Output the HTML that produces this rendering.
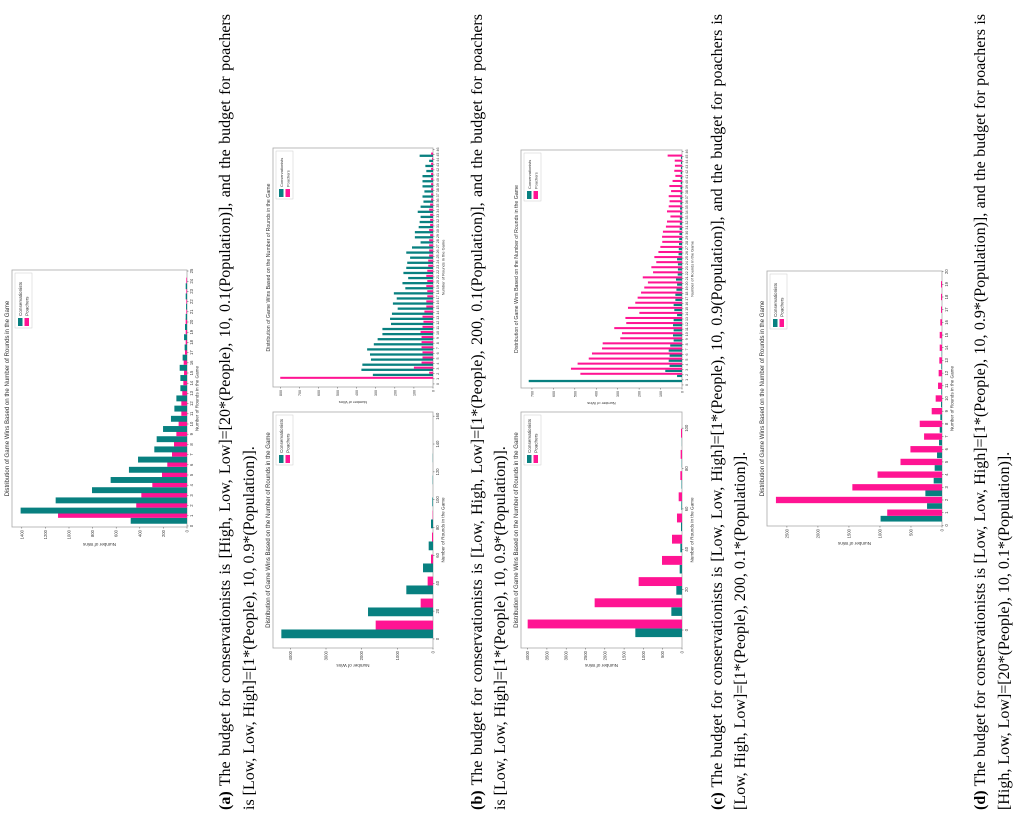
<!DOCTYPE html>
<html><head><meta charset="utf-8">
<style>
html,body{margin:0;padding:0;background:#fff;}
body{width:1021px;height:822px;overflow:hidden;position:relative;}
#page{position:absolute;left:0;top:0;width:822px;height:1021px;transform-origin:0 0;transform:translate(0,822px) rotate(-90deg);}
.cap{position:absolute;left:12px;width:796px;height:22px;line-height:22px;font-family:"Liberation Serif",serif;font-size:17.5px;color:#000;white-space:nowrap;}
.cap.j{text-align:justify;text-align-last:justify;}
svg text{font-family:"Liberation Sans",sans-serif;fill:#333;}
</style></head>
<body>
<div id="page">
<svg id="charts" width="822" height="1021" style="position:absolute;left:0;top:0"></svg>
<div class="cap j" style="top:215px"><b>(a)</b> The budget for conservationists is [High, Low, Low]=[20*(People), 10, 0.1(Population)], and the budget for poachers</div>
<div class="cap" style="top:239px">is [Low, Low, High]=[1*(People), 10, 0.9*(Population)].</div>
<div class="cap j" style="top:467px"><b>(b)</b> The budget for conservationists is [Low, High, Low]=[1*(People), 200, 0.1(Population)], and the budget for poachers</div>
<div class="cap" style="top:490px">is [Low, Low, High]=[1*(People), 10, 0.9*(Population)].</div>
<div class="cap j" style="top:707px"><b>(c)</b> The budget for conservationists is [Low, Low, High]=[1*(People), 10, 0.9(Population)], and the budget for poachers is</div>
<div class="cap" style="top:730px">[Low, High, Low]=[1*(People), 200, 0.1*(Population)].</div>
<div class="cap j" style="top:970px"><b>(d)</b> The budget for conservationists is [Low, Low, High]=[1*(People), 10, 0.9*(Population)], and the budget for poachers is</div>
<div class="cap" style="top:994px">[High, Low, Low]=[20*(People), 10, 0.1*(Population)].</div>
</div>
<script>
// ---- Chart A data ----
const aRounds=[1,2,3,4,5,6,7,8,9,10,11,12,13,14,15,16,17,18,19,20,21,22,23,24];
const aCons=[477,1410,1113,805,647,492,415,277,257,203,136,107,90,56,56,62,37,20,25,17,11,8,11,11];
const aPoach=[1093,430,387,294,212,167,127,110,90,71,48,48,40,31,25,28,17,11,11,11,6,6,6,6];
const aXTicks=[0,1,2,3,4,5,6,7,8,9,10,11,12,13,14,15,16,17,18,19,20,21,22,23,24,25];
const aYTicks=[0,200,400,600,800,1000,1200,1400];
// ---- Chart B1 data ----
const b1Bins=[0,15.8,31.6,47.4,63.2,79,94.8,110.6,126.4];
const b1Cons=[4252,1822,748,280,121,56,19,8,5];
const b1Poach=[1607,346,150,56,28,10,0,0,0];
const b1XTicks=[0,20,40,60,80,100,120,140,160];
const b1YTicks=[0,1000,2000,3000,4000];
// ---- Chart B2 data ----
const b2Rounds=[1,2,3,4,5,6,7,8,9,10,11,12,13,14,15,16,17,18,19,20,21,22,23,24,25,26,27,28,29,30,31,32,33,34,35,36,37,38,39,40,41,42,43,44,45];
const b2Cons=[0,315,375,370,325,330,345,310,290,265,265,220,225,215,185,210,190,205,145,160,130,155,140,135,120,140,110,65,95,95,75,70,65,80,65,50,55,45,55,55,55,35,40,20,70];
const b2Poach=[800,20,100,60,55,55,60,60,60,65,55,50,55,45,35,35,30,30,35,30,35,30,25,25,20,20,20,20,15,20,15,15,15,20,15,10,10,10,10,10,10,10,10,5,10];
const b2XTicks=[0,1,2,3,4,5,6,7,8,9,10,11,12,13,14,15,16,17,18,19,20,21,22,23,24,25,26,27,28,29,30,31,32,33,34,35,36,37,38,39,40,41,42,43,44,45,46];
const b2YTicks=[0,100,200,300,400,500,600,700,800];
// ---- Chart C1 data ----
const c1Bins=[0,10.5,21,31.5,42,52.5,63,73.5,84,94.5];
const c1Cons=[1209,276,147,60,43,26,17,12,8,4];
const c1Poach=[3998,2263,1123,518,259,130,86,43,35,26];
const c1XTicks=[0,20,40,60,80,100];
const c1YTicks=[0,500,1000,1500,2000,2500,3000,3500,4000];
// ---- Chart C2 data ----
const c2Rounds=b2Rounds.slice();
const c2Cons=[715,23,78,58,62,58,62,55,39,42,39,42,39,23,36,39,31,31,26,23,28,20,19,19,23,16,15,14,13,12,11,10,10,9,9,8,8,7,7,6,6,6,5,5,5];
const c2Poach=[0,474,518,487,435,420,373,370,288,280,316,260,264,199,252,218,207,191,176,159,183,135,143,120,129,110,101,92,93,89,75,70,54,70,62,58,62,51,59,44,31,36,33,34,67];
const c2XTicks=b2XTicks.slice();
const c2YTicks=[0,100,200,300,400,500,600,700];
// ---- Chart D data ----
const dRounds=[1,2,3,4,5,6,7,8,9,10,11,12,13,14,15,16,17,18,19];
const dCons=[990,241,268,134,118,80,48,37,27,16,11,5,11,5,5,0,0,0,0];
const dPoach=[883,2677,1445,1039,669,509,289,359,166,102,64,54,43,37,37,27,16,16,16];
const dXTicks=[0,1,2,3,4,5,6,7,8,9,10,11,12,13,14,15,16,17,18,19,20];
const dYTicks=[0,500,1000,1500,2000,2500];

const NS='http://www.w3.org/2000/svg';
const svg=document.getElementById('charts');
const TEAL='#088080', PINK='#ff1493';
function mk(tag,parent){const e=document.createElementNS(NS,tag);parent.appendChild(e);return e;}

function drawChart(g,key,cats,cons,poach,xt,yt){
  const xs=v=>g.u0+(v-g.xmin)/(g.xmax-g.xmin)*(g.u1-g.u0);
  const ys=v=>g.v1-(v-0)/(g.ymax)*(g.v1-g.v0);
  const grp=mk('g',svg);
  
  
  const fr=mk('rect',grp);
  fr.setAttribute('x',g.u0);fr.setAttribute('y',g.v0);fr.setAttribute('width',g.u1-g.u0);fr.setAttribute('height',g.v1-g.v0);
  fr.setAttribute('fill','none');fr.setAttribute('stroke','#aaa');fr.setAttribute('stroke-width','0.8');
  
  
  for(let i=0;i<cats.length;i++){
    const c=cats[i];
    const r1=mk('rect',grp);
    const xa=xs(c+g.t0),xb=xs(c+g.t1);
    r1.setAttribute('x',Math.min(xa,xb));r1.setAttribute('width',Math.abs(xb-xa));
    r1.setAttribute('y',ys(cons[i]));r1.setAttribute('height',ys(0)-ys(cons[i]));r1.setAttribute('fill',TEAL);
    
    
    const r2=mk('rect',grp);
    const xc=xs(c+g.p0),xd=xs(c+g.p1);
    r2.setAttribute('x',Math.min(xc,xd));r2.setAttribute('width',Math.abs(xd-xc));
    r2.setAttribute('y',ys(poach[i]));r2.setAttribute('height',ys(0)-ys(poach[i]));r2.setAttribute('fill',PINK);
    
    
  }
  xt.forEach(t=>{
    const x=xs(t);
    const l=mk('line',grp);l.setAttribute('x1',x);l.setAttribute('x2',x);l.setAttribute('y1',g.v1);l.setAttribute('y2',g.v1+1.5);l.setAttribute('stroke','#555');l.setAttribute('stroke-width','0.5');
    
    
    const tx=mk('text',grp);tx.setAttribute('x',x);tx.setAttribute('y',g.v1+6);tx.setAttribute('font-size',g.fs);tx.setAttribute('text-anchor','middle');tx.textContent=t;
    
    
  });
  yt.forEach(t=>{
    const y=ys(t);
    const l=mk('line',grp);l.setAttribute('x1',g.u0-1.5);l.setAttribute('x2',g.u0);l.setAttribute('y1',y);l.setAttribute('y2',y);l.setAttribute('stroke','#555');l.setAttribute('stroke-width','0.5');
    
    
    const tx=mk('text',grp);tx.setAttribute('x',g.u0-3);tx.setAttribute('y',y+1.5);tx.setAttribute('font-size',g.fs);tx.setAttribute('text-anchor','end');tx.textContent=t;
    
    
  });
  const cx=(g.u0+g.u1)/2, cy=(g.v0+g.v1)/2;
  const ti=mk('text',grp);ti.setAttribute('x',cx);ti.setAttribute('y',g.v0-3);ti.setAttribute('font-size',g.fs*1.45);ti.setAttribute('text-anchor','middle');ti.setAttribute('fill','#222');
  ti.textContent='Distribution of Game Wins Based on the Number of Rounds in the Game';
  
  
  const xl=mk('text',grp);xl.setAttribute('x',cx);xl.setAttribute('y',g.v1+11.5);xl.setAttribute('font-size',g.fs*1.1);xl.setAttribute('text-anchor','middle');
  xl.textContent='Number of Rounds in the Game';
  
  
  const yl=mk('text',grp);yl.setAttribute('font-size',g.fs*1.1);yl.setAttribute('text-anchor','middle');
  const yx=g.u0-g.yOff;
  yl.setAttribute('transform','translate('+yx+','+cy+') rotate(-90)');
  yl.textContent='Number of Wins';
  
  
  const lg=mk('g',grp);
  
  
  const lx=g.u1-g.legW-3, ly=g.v0+3;
  const lb=mk('rect',lg);lb.setAttribute('x',lx);lb.setAttribute('y',ly);lb.setAttribute('width',g.legW);lb.setAttribute('height',17);lb.setAttribute('fill','#fff');lb.setAttribute('stroke','#ccc');lb.setAttribute('stroke-width','0.5');
  [['Conservationists',TEAL],['Poachers',PINK]].forEach((e,k)=>{
    const s=mk('rect',lg);s.setAttribute('x',lx+2);s.setAttribute('y',ly+3+k*6.5);s.setAttribute('width',8);s.setAttribute('height',4.5);s.setAttribute('fill',e[1]);
    
    
    const t=mk('text',lg);t.setAttribute('x',lx+12);t.setAttribute('y',ly+7+k*6.5);t.setAttribute('font-size',g.fs*1.1);t.textContent=e[0];
    
    
  });
}

drawChart({u0:295,u1:552,v0:12,v1:187,xmin:-0.1,xmax:25.1,ymax:1483,t0:-0.78,t1:-0.2,p0:-0.2,p1:0.35,fs:4.2,yOff:16,legW:55},'a',aRounds,aCons,aPoach,aXTicks,aYTicks);
drawChart({u0:174,u1:410,v0:273,v1:433,xmin:-6.5,xmax:163,ymax:4486,t0:0.5,t1:6.8,p0:6.8,p1:13.2,fs:4.2,yOff:16,legW:50},'b1',b1Bins,b1Cons,b1Poach,b1XTicks,b1YTicks);
drawChart({u0:435,u1:674,v0:273,v1:433,xmin:-0.6,xmax:46.3,ymax:838,t0:-0.45,t1:0,p0:0,p1:0.4,fs:3.6,yOff:14,legW:48},'b2',b2Rounds,b2Cons,b2Poach,b2XTicks,b2YTicks);
drawChart({u0:174,u1:410,v0:521,v1:682,xmin:-8.9,xmax:108,ymax:4171,t0:-3.5,t1:0.8,p0:0.8,p1:5.2,fs:4.2,yOff:16,legW:50},'c1',c1Bins,c1Cons,c1Poach,c1XTicks,c1YTicks);
drawChart({u0:434,u1:672,v0:521,v1:682,xmin:-0.6,xmax:46.3,ymax:751,t0:-0.45,t1:0,p0:0,p1:0.4,fs:3.6,yOff:14,legW:48},'c2',c2Rounds,c2Cons,c2Poach,c2XTicks,c2YTicks);
drawChart({u0:296,u1:551,v0:767,v1:942,xmin:-0.05,xmax:20.05,ymax:2821,t0:-0.7,t1:-0.25,p0:-0.25,p1:0.25,fs:4.2,yOff:16,legW:55},'d',dRounds,dCons,dPoach,dXTicks,dYTicks);

(function(){
  const caps=document.querySelectorAll('.cap');
  let fs=17.5;
  const firsts=document.querySelectorAll('.cap.j');
  const fits=()=>Array.from(firsts).every(c=>{c.style.textAlignLast='left';c.style.textAlign='left';const w=c.scrollWidth;c.style.textAlignLast='';c.style.textAlign='';return w<=796;});
  caps.forEach(c=>c.style.fontSize=fs+'px');
  while(!fits() && fs>12){fs-=0.25;caps.forEach(c=>c.style.fontSize=fs+'px');}
})();
</script>
</body></html>
